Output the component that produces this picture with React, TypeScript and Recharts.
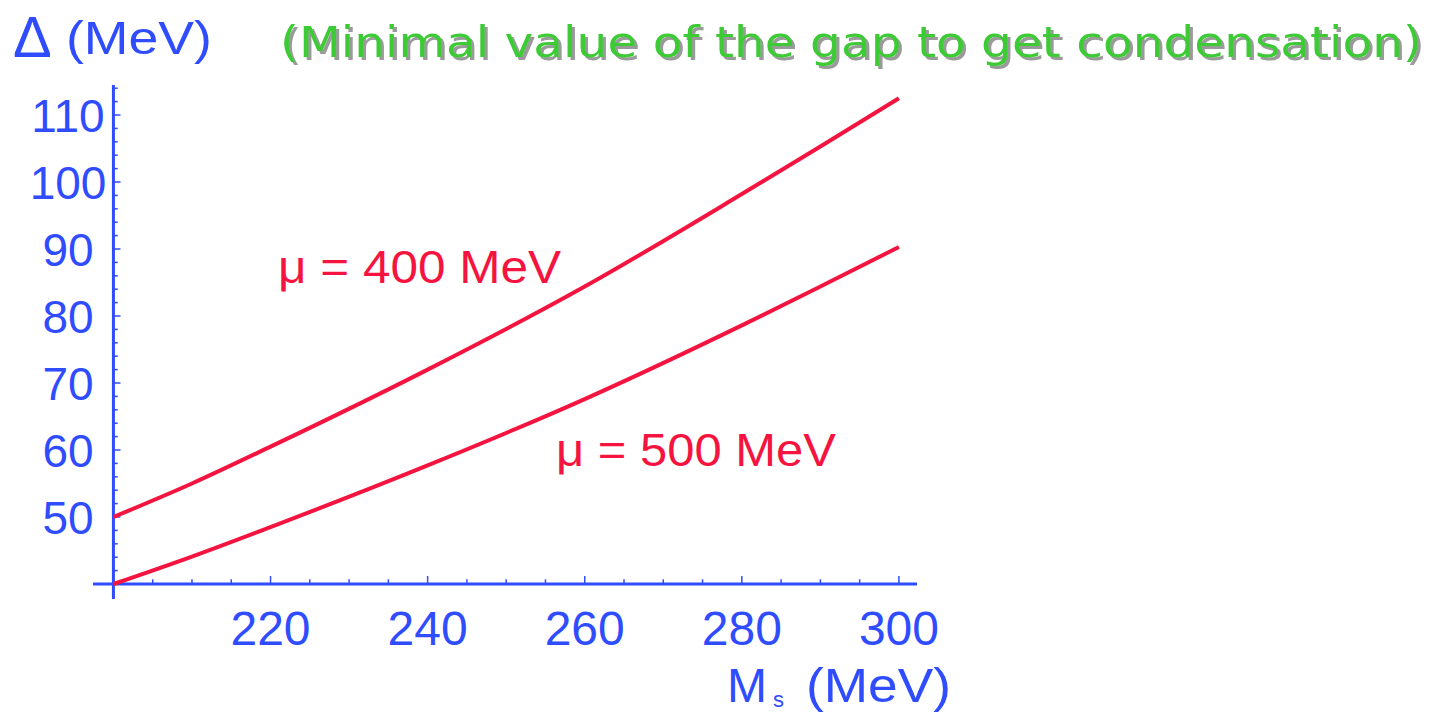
import React from 'react';
import { LineChart, Line, XAxis, YAxis, ReferenceLine } from 'recharts';

// M_s (MeV) sample points and minimal gap Delta (MeV)
const msValues = [200, 210, 220, 240, 260, 280, 290, 300];
const gapMu400 = [50, 55.0, 60.5, 72.0, 84.4, 98.2, 105.3, 112.5];
const gapMu500 = [40, 44.1, 48.5, 57.7, 67.6, 78.6, 84.4, 90.3];

const xTickLabels = [220, 240, 260, 280, 300];
const yTickLabels = [50, 60, 70, 80, 90, 100, 110];
const xMinorTicks = [205, 210, 215, 220, 225, 230, 235, 240, 245, 250, 255, 260, 265, 270, 275, 280, 285, 290, 295, 300];
const yMinorTicks = [42, 44, 46, 48, 50, 52, 54, 56, 58, 60, 62, 64, 66, 68, 70, 72, 74, 76, 78, 80, 82, 84, 86, 88, 90, 92, 94, 96, 98, 100, 102, 104, 106, 108, 110, 112, 114];

const X_DOMAIN: [number, number] = [197.4, 302.3];
const Y_DOMAIN: [number, number] = [37.76, 114.48];
const X_ORIGIN = 200;
const Y_ORIGIN = 40;

const BLUE = '#2f4dff';
const RED = '#f5143f';
const GREEN = '#3ccb34';
const FONT = '"Liberation Sans", Arial, Helvetica, sans-serif';
const TITLE_FONT = '"Comic Sans MS", "DejaVu Sans", sans-serif';

const data = msValues.map((ms, i) => ({ ms, mu400: gapMu400[i], mu500: gapMu500[i] }));

const YTick = (props: any) => {
  const { x, y, payload } = props;
  return (
    <text x={x - 17} y={y} dy="0.36em" textAnchor="middle" fill={BLUE} fontSize={46} fontFamily={FONT}>
      {payload.value}
    </text>
  );
};

const XTick = (props: any) => {
  const { x, y, payload } = props;
  return (
    <text x={x} y={y} dy="0.8em" textAnchor="middle" fill={BLUE} fontSize={48} fontFamily={FONT}>
      {payload.value}
    </text>
  );
};

const App = () => {
  return (
    <div style={{ position: 'absolute', left: 0, top: 0, width: 1437, height: 713, background: '#fff' }}>
      <LineChart
        width={1437}
        height={713}
        data={data}
        margin={{ top: 85, right: 520, bottom: 54, left: 33 }}
      >
        <XAxis
          dataKey="ms"
          type="number"
          domain={X_DOMAIN}
          ticks={xTickLabels}
          axisLine={false}
          tickLine={false}
          height={60}
          tick={<XTick />}
          allowDataOverflow
        />
        <YAxis
          type="number"
          domain={Y_DOMAIN}
          ticks={yTickLabels}
          axisLine={false}
          tickLine={false}
          width={60}
          tick={<YTick />}
          allowDataOverflow
        />
        {/* axes crossing at (200, 40) */}
        <ReferenceLine
          segment={[{ x: X_DOMAIN[0], y: Y_ORIGIN }, { x: X_DOMAIN[1], y: Y_ORIGIN }]}
          stroke={BLUE}
          strokeWidth={3}
          ifOverflow="visible"
        />
        <ReferenceLine
          segment={[{ x: X_ORIGIN, y: Y_DOMAIN[0] }, { x: X_ORIGIN, y: Y_DOMAIN[1] }]}
          stroke={BLUE}
          strokeWidth={3}
          ifOverflow="visible"
        />
        {xMinorTicks.map((v) => (
          <ReferenceLine
            key={'xt' + v}
            segment={[{ x: v, y: Y_ORIGIN }, { x: v, y: Y_ORIGIN + (v % 20 === 0 ? 1.2 : 0.7) }]}
            stroke={BLUE}
            strokeWidth={1.5}
            ifOverflow="visible"
          />
        ))}
        {yMinorTicks.map((v) => (
          <ReferenceLine
            key={'yt' + v}
            segment={[{ x: X_ORIGIN, y: v }, { x: X_ORIGIN + (v % 10 === 0 ? 0.9 : 0.55), y: v }]}
            stroke={BLUE}
            strokeWidth={1.5}
            ifOverflow="visible"
          />
        ))}
        <Line
          type="monotone"
          dataKey="mu400"
          stroke={RED}
          strokeWidth={4}
          dot={false}
          isAnimationActive={false}
        />
        <Line
          type="monotone"
          dataKey="mu500"
          stroke={RED}
          strokeWidth={4}
          dot={false}
          isAnimationActive={false}
        />
      </LineChart>
      <svg
        width={1437}
        height={713}
        style={{ position: 'absolute', left: 0, top: 0, pointerEvents: 'none' }}
      >
        <defs>
          <filter id="titleShadow" x="-5%" y="-30%" width="110%" height="160%">
            <feDropShadow dx={3} dy={3} stdDeviation={0.6} floodColor="#9a9a9a" floodOpacity={1} />
          </filter>
        </defs>
        {/* y axis title */}
        <text x={13} y={57} fill={BLUE} fontSize={58} fontFamily={FONT}>Δ</text>
        <text x={66} y={54} fill={BLUE} fontSize={46} fontFamily={FONT} textLength={146} lengthAdjust="spacingAndGlyphs">(MeV)</text>
        {/* x axis title */}
        <text x={727} y={702} fill={BLUE} fontSize={48} fontFamily={FONT}>M</text>
        <text x={773} y={707} fill={BLUE} fontSize={22} fontFamily={FONT}>s</text>
        <text x={806} y={702} fill={BLUE} fontSize={48} fontFamily={FONT} textLength={145} lengthAdjust="spacingAndGlyphs">(MeV)</text>
        {/* curve labels */}
        <text x={278} y={283} fill={RED} fontSize={46} fontFamily={FONT} textLength={283} lengthAdjust="spacingAndGlyphs">μ = 400 MeV</text>
        <text x={556} y={466} fill={RED} fontSize={46} fontFamily={FONT} textLength={280} lengthAdjust="spacingAndGlyphs">μ = 500 MeV</text>
        {/* title with drop shadow */}
        <text
          x={280}
          y={57}
          fill={GREEN}
          fontSize={42}
          fontFamily={TITLE_FONT}
          textLength={1142}
          lengthAdjust="spacingAndGlyphs"
          filter="url(#titleShadow)"
        >
          (Minimal value of the gap to get condensation)
        </text>
      </svg>
    </div>
  );
};

export default App;
